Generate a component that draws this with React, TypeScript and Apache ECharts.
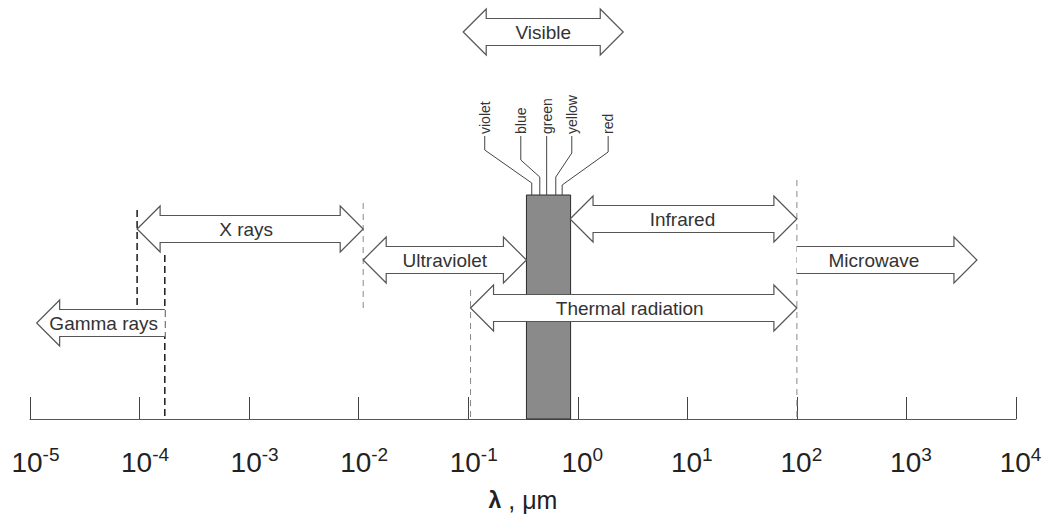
import React, { useEffect, useRef } from "react";
import * as echarts from "echarts";

// ---------- data ----------
const lambdaMin = 1e-5;
const lambdaMax = 1e4;
const bandNames = ["Gamma rays", "X rays", "Ultraviolet", "Infrared", "Thermal radiation", "Microwave", "Visible"];
const bandStart = [1.15e-5, 9.5e-5, 0.011, 0.85, 0.105, 100, 0.09];
const bandEnd = [1.7e-4, 0.011, 0.34, 100, 100, 4400, 2.6];
const bandKind = ["left", "both", "both", "both", "both", "right", "both"];
const visibleBand = [0.34, 0.86];
const colorNames = ["violet", "blue", "green", "yellow", "red"];
const colorLambda = [0.38, 0.45, 0.52, 0.63, 0.72];
const boundaryLambda = [9.5e-5, 1.7e-4, 0.011, 0.105, 100];

// ---------- layout (vertical placement in pixel-like units of a hidden axis) ----------
const AXIS_Y = 419;
const BAR_TOP = 195;
const bandRowY = [323, 229, 260, 219, 308, 260, 32];
const bandTextDx = [3, -4, 0, -1, -4, -13, 0];
const boundaryTop = [210, 255, 203, 290, 180];
const boundaryBottom = [307, 419, 308, 419, 419];
const boundaryDark = [true, true, false, false, false];
const colorLabelDx = [-47, -19, 0, 16, 46];
const colorKneeTop = [150, 160, 0, 153, 152];
const colorKneeBottom = [183, 177, 0, 177, 185];
const LABEL_BASE_Y = 134;

const FONT = "Liberation Sans, Arial, Helvetica, sans-serif";

export default function App() {
  const ref = useRef<HTMLDivElement>(null);

  useEffect(() => {
    if (!ref.current) return;
    const chart = echarts.init(ref.current, undefined, { renderer: "svg" });

    const arrowSeries = {
      type: "custom",
      clip: false,
      z: 3,
      data: bandNames.map((n, i) => [bandStart[i], bandEnd[i], i]),
      encode: { x: [0, 1] },
      renderItem: (params: any, api: any) => {
        const i = params.dataIndex;
        const a = api.coord([api.value(0), bandRowY[i]]);
        const b = api.coord([api.value(1), bandRowY[i]]);
        const x1 = a[0], x2 = b[0], cy = a[1];
        const L = 23, H = 23, S = 13.5;
        const kind = bandKind[i];
        let pts: number[][];
        if (kind === "both") {
          pts = [[x1, cy], [x1 + L, cy - H], [x1 + L, cy - S], [x2 - L, cy - S], [x2 - L, cy - H], [x2, cy],
            [x2 - L, cy + H], [x2 - L, cy + S], [x1 + L, cy + S], [x1 + L, cy + H]];
        } else if (kind === "left") {
          pts = [[x2, cy - S], [x1 + L, cy - S], [x1 + L, cy - H], [x1, cy], [x1 + L, cy + H], [x1 + L, cy + S], [x2, cy + S]];
        } else {
          pts = [[x1, cy - S], [x2 - L, cy - S], [x2 - L, cy - H], [x2, cy], [x2 - L, cy + H], [x2 - L, cy + S], [x1, cy + S]];
        }
        const closed = kind === "both";
        const children: any[] = [
          { type: "polygon", shape: { points: pts }, style: { fill: "#fff", stroke: closed ? "#555" : "none", lineWidth: 1.2 } },
        ];
        if (!closed) {
          children.push({ type: "polyline", shape: { points: pts }, style: { fill: "none", stroke: "#555", lineWidth: 1.2 } });
        }
        children.push({
          type: "text",
          x: (x1 + x2) / 2 + bandTextDx[i],
          y: cy,
          style: { text: bandNames[i], fill: "#333", font: `19px ${FONT}`, align: "center", verticalAlign: "middle" },
        });
        return { type: "group", children };
      },
    };

    const boundarySeries = {
      type: "custom",
      clip: false,
      z: 1,
      data: boundaryLambda.map((l, i) => [l, i]),
      encode: { x: 0 },
      renderItem: (params: any, api: any) => {
        const i = params.dataIndex;
        const p1 = api.coord([api.value(0), boundaryTop[i]]);
        const p2 = api.coord([api.value(0), boundaryBottom[i]]);
        const dark = boundaryDark[i];
        return {
          type: "line",
          shape: { x1: p1[0], y1: p1[1], x2: p2[0], y2: p2[1] },
          style: { stroke: dark ? "#1a1a1a" : "#888", lineWidth: dark ? 1.5 : 1, lineDash: dark ? [7, 4] : [6, 5] },
        };
      },
    };

    const barSeries = {
      type: "custom",
      clip: false,
      z: 2,
      data: [[visibleBand[0], visibleBand[1]]],
      encode: { x: [0, 1] },
      renderItem: (params: any, api: any) => {
        const p1 = api.coord([api.value(0), BAR_TOP]);
        const p2 = api.coord([api.value(1), AXIS_Y]);
        return {
          type: "rect",
          shape: { x: p1[0], y: p1[1], width: p2[0] - p1[0], height: p2[1] - p1[1] },
          style: { fill: "#8a8a8a", stroke: "#2a2a2a", lineWidth: 1 },
        };
      },
    };

    const colorSeries = {
      type: "custom",
      clip: false,
      z: 3,
      data: colorLambda.map((l, i) => [l, i]),
      encode: { x: 0 },
      renderItem: (params: any, api: any) => {
        const i = params.dataIndex;
        const end = api.coord([api.value(0), BAR_TOP]);
        const ex = end[0];
        const lx = ex + colorLabelDx[i];
        const topY = api.coord([api.value(0), LABEL_BASE_Y + 2])[1];
        let pts: number[][];
        if (colorKneeTop[i] === 0) {
          pts = [[lx, topY], [ex, end[1]]];
        } else {
          const k1 = api.coord([api.value(0), colorKneeTop[i]])[1];
          const k2 = api.coord([api.value(0), colorKneeBottom[i]])[1];
          pts = [[lx, topY], [lx, k1], [ex, k2], [ex, end[1]]];
        }
        return {
          type: "group",
          children: [
            { type: "polyline", shape: { points: pts }, style: { fill: "none", stroke: "#444", lineWidth: 1 } },
            {
              type: "text",
              x: lx,
              y: api.coord([api.value(0), LABEL_BASE_Y])[1],
              rotation: Math.PI / 2,
              style: { text: colorNames[i], fill: "#333", font: `14px ${FONT}`, align: "left", verticalAlign: "middle" },
            },
          ],
        };
      },
    };

    chart.setOption({
      animation: false,
      backgroundColor: "#fff",
      grid: { left: 30, right: 33, top: 0, height: AXIS_Y },
      xAxis: {
        type: "log",
        logBase: 10,
        position: "bottom",
        min: lambdaMin,
        max: lambdaMax,
        splitNumber: 9,
        name: "{l|λ}{u| , μm}",
        nameLocation: "middle",
        nameGap: 68,
        nameTextStyle: {
          rich: {
            l: { fontSize: 23, fontWeight: "bold", color: "#222", fontFamily: FONT, lineHeight: 26 },
            u: { fontSize: 25, color: "#222", fontFamily: FONT, lineHeight: 26 },
          },
        },
        axisLine: { onZero: false, lineStyle: { color: "#555", width: 1 } },
        axisTick: { show: true, inside: true, length: 22, lineStyle: { color: "#444", width: 1 } },
        splitLine: { show: false },
        minorTick: { show: false },
        axisLabel: {
          margin: 26,
          formatter: (v: number) => {
            const e = Math.round(Math.log10(v));
            return `{${e < 0 ? "pn" : "pp"}|}{b|10}{s|${e}}`;
          },
          rich: {
            b: { fontSize: 28, lineHeight: 34, color: "#222", fontFamily: FONT },
            s: { fontSize: 19, lineHeight: 7, verticalAlign: "top", color: "#222", fontFamily: FONT },
            pn: { width: 11 },
            pp: { width: 9 },
          },
        },
      },
      yAxis: { type: "value", min: 0, max: AXIS_Y, inverse: true, show: false },
      series: [boundarySeries, barSeries, arrowSeries, colorSeries],
    });

    return () => chart.dispose();
  }, []);

  return (
    <div
      ref={ref}
      style={{ position: "absolute", left: 0, top: 0, width: 1049, height: 519, background: "#fff" }}
    />
  );
}
